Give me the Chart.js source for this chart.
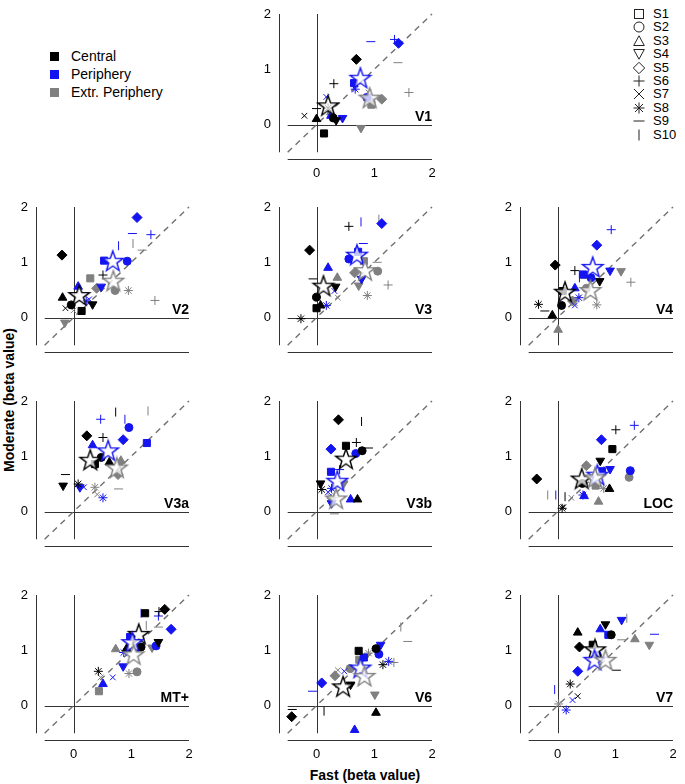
<!DOCTYPE html>
<html>
<head>
<meta charset="utf-8">
<script src="https://cdn.jsdelivr.net/npm/chart.js@4.4.1/dist/chart.umd.min.js"></script>
<style>
  html, body { margin: 0; padding: 0; background: #fff; width: 685px; height: 784px; overflow: hidden;
    font-family: "Liberation Sans", Arial, sans-serif; }
  canvas { position: absolute; }
  .lg { position: absolute; white-space: nowrap; color: #000; }
  .lg svg { position: absolute; }
  .title { position: absolute; font-weight: bold; font-size: 14px; color: #000; white-space: nowrap; }
</style>
</head>
<body>
<div id="groupLegend"></div>
<div id="subjectLegend"></div>
<div class="title" style="left:365px;top:767px;transform:translateX(-50%);">Fast (beta value)</div>
<div class="title" style="left:9px;top:400px;transform:translate(-50%,-50%) rotate(-90deg);">Moderate (beta value)</div>

<script>
// groups, subjects, ticks
const groupNames = ['Central', 'Periphery', 'Extr. Periphery'];
const subjectNames = ['S1', 'S2', 'S3', 'S4', 'S5', 'S6', 'S7', 'S8', 'S9', 'S10'];
const tickValues = [0, 1, 2];

// each array: S1..S10 as [fast, moderate], null where the point is hidden
const v1Central = [[0.13,-0.16],[0.29,0.12],[0.0,0.10],[0.34,0.08],[0.69,1.18],[0.30,0.74],[-0.21,0.16],[0.20,0.30],[0.0,0.29],null];
const v1Periph  = [[0.65,0.75],[0.87,0.49],[0.25,0.16],[0.45,0.12],[1.42,1.47],[1.35,1.54],[0.17,0.50],[0.67,0.64],[0.94,1.50],null];
const v1Extr    = [[0.95,0.36],[0.93,0.42],[0.25,0.22],[0.77,-0.06],[1.13,0.46],[1.60,0.58],[0.90,0.58],[0.88,0.50],[1.41,1.12],null];
const v1Means   = [[0.20,0.33],[0.76,0.83],[0.92,0.47]];

const v2Central = [[0.14,0.12],[-0.04,0.23],[-0.19,0.36],[0.33,0.24],[-0.20,1.13],[0.51,0.77],[-0.14,0.17],null,null,null];
const v2Periph  = [[0.53,1.03],[0.93,1.02],[0.08,0.56],[0.48,0.56],[1.10,1.81],[1.34,1.50],[0.27,0.33],[0.22,0.30],[1.02,1.52],[0.78,1.30]];
const v2Extr    = [[0.29,0.71],[0.72,0.49],null,[-0.15,-0.09],[0.40,0.53],[1.41,0.31],[0.0,0.13],[0.95,0.49],[1.19,1.22],[1.03,1.34]];
const v2Means   = [[0.10,0.39],[0.68,1.01],[0.69,0.65]];

const v3Central = [[0.0,0.17],[0.0,0.37],[0.07,0.22],[0.33,0.56],[-0.12,1.22],[0.56,1.65],null,[-0.27,-0.02],[-0.06,0.70],null];
const v3Periph  = [[0.72,1.19],[0.56,1.06],[0.20,0.90],[0.78,0.70],[1.13,1.70],null,[0.31,0.48],[0.17,0.22],[0.81,1.34],[0.77,1.73]];
const v3Extr    = [[0.82,1.02],[1.06,0.84],[0.36,0.72],[0.73,0.58],[0.66,0.81],[1.24,0.59],[0.37,0.36],[0.88,0.40],[1.05,1.00],[1.08,1.78]];
const v3Means   = [[0.12,0.56],[0.70,1.12],[0.84,0.84]];

const v4Central = [[0.09,0.48],[0.07,0.22],[-0.09,0.04],[0.73,0.66],[-0.04,0.95],[0.30,0.85],null,[-0.33,0.24],[-0.22,0.12],null];
const v4Periph  = [[0.44,0.78],[0.58,0.72],[0.30,0.53],[0.91,0.85],[0.68,1.31],[0.93,1.59],[0.30,0.22],[0.37,0.36],null,[0.38,0.72]];
const v4Extr    = [[0.46,0.77],[0.50,0.53],[0.01,-0.22],[1.10,0.84],[0.26,0.30],[1.27,0.64],[0.30,0.26],[0.68,0.23],null,null];
const v4Means   = [[0.13,0.45],[0.61,0.90],[0.57,0.48]];

const v3aCentral = [[0.37,0.86],[0.48,0.98],[0.62,0.89],[-0.18,0.47],[0.23,1.37],[0.51,1.34],null,[0.08,0.50],[-0.14,0.67],[0.73,1.80]];
const v3aPeriph  = [[1.27,1.24],[0.96,1.52],[0.33,1.20],[0.11,0.44],[0.86,1.30],[0.47,1.67],[0.18,0.44],[0.51,0.25],null,[0.89,1.67]];
const v3aExtr    = [null,null,[0.82,0.92],[0.81,0.86],[0.77,0.67],null,[0.41,0.31],[0.37,0.44],[0.78,0.41],[1.29,1.82]];
const v3aMeans   = [[0.29,0.92],[0.60,1.09],[0.75,0.78]];

const v3bCentral = [[0.51,1.19],[0.79,1.10],[0.71,0.22],[0.07,0.51],[0.38,1.66],[0.69,1.25],null,[0.09,0.40],[0.90,1.15],[0.78,1.63]];
const v3bPeriph  = [[0.25,0.72],[0.68,1.05],[0.59,0.22],[0.26,0.15],[0.25,1.13],[0.40,0.76],[0.20,0.35],[0.26,0.42],null,null];
const v3bExtr    = [null,null,null,[0.47,0.51],null,null,[0.23,0.28],[0.30,0.25],[0.31,-0.04],null];
const v3bMeans   = [[0.51,0.94],[0.36,0.54],[0.34,0.22]];

const locCentral = [[0.95,1.13],[0.43,0.51],[0.90,0.41],[0.74,0.92],[-0.36,0.59],[1.01,1.48],[0.10,0.08],[0.08,0.06],null,[0.13,0.27]];
const locPeriph  = [[0.77,0.73],[1.26,0.74],[0.46,0.28],[0.91,0.77],[0.76,1.30],[1.33,1.56],null,[0.44,0.30],null,[-0.03,0.30]];
const locExtr    = [[0.66,0.47],[1.24,0.62],[0.71,0.18],null,[0.50,0.83],null,[0.24,0.25],[0.80,0.42],null,[-0.17,0.30]];
const locMeans   = [[0.42,0.58],[0.69,0.65],[0.65,0.60]];

const mtCentral = [[1.24,1.67],[1.17,1.06],[0.92,1.03],[1.47,1.15],[1.58,1.74],[1.48,1.70],null,[0.43,0.62],null,null];
const mtPeriph  = [[0.98,1.24],[1.43,1.08],[0.51,0.39],[0.86,0.71],[1.69,1.38],[1.47,1.62],[0.68,0.51],[0.87,0.96],null,[1.17,1.67]];
const mtExtr    = [[0.44,0.26],[1.10,0.61],[0.73,1.02],[1.36,1.05],null,null,[0.47,0.51],[0.96,0.58],[1.47,1.42],[1.26,1.45]];
const mtMeans   = [[1.13,1.28],[1.02,1.13],[1.04,0.91]];

const v6Central = [[0.73,0.99],[1.03,1.03],[1.03,-0.13],[0.59,0.38],[-0.43,-0.20],null,null,[1.15,0.74],[-0.42,-0.07],[0.13,-0.10]];
const v6Periph  = [[0.82,0.87],[1.08,0.93],[0.66,-0.44],[1.11,1.10],[0.09,0.41],null,[0.48,0.62],[1.25,0.80],[-0.07,0.26],null];
const v6Extr    = [[0.74,0.83],[0.58,0.67],null,[1.01,0.20],[0.32,0.54],[1.34,0.78],[0.37,0.64],[0.90,0.95],[1.58,1.16],[1.46,1.42]];
const v6Means   = [[0.46,0.33],[0.76,0.67],[0.83,0.52]];

const v7Central = [[0.61,1.10],[0.93,1.28],[0.35,1.32],[0.83,1.47],[0.38,1.06],null,[0.35,0.17],[0.22,0.39],[1.02,0.64],null];
const v7Periph  = [[0.88,1.28],[0.69,0.91],[0.74,1.38],[1.11,1.55],[0.35,0.62],null,[0.26,0.10],[0.15,-0.08],[1.68,1.29],[-0.05,0.29]];
const v7Extr    = [null,null,[1.34,1.20],[1.59,1.10],null,null,null,[0.02,0.03],[1.11,1.19],[1.20,1.58]];
const v7Means   = [[0.65,1.00],[0.64,0.81],[0.83,0.81]];

// colores y marcadores
const groupColors = ['#000000', '#1414f0', '#808080'];
const markerStyle  = ['rect', 'circle', 'triangle', 'triangle', 'rectRot', 'cross', 'crossRot', 'star', 'line', 'line'];
const markerRot    = [0, 0, 0, 180, 0, 0, 0, 0, 0, 90];
const markerRadius = [5, 4, 5, 5, 5, 4.5, 4, 4.5, 4.5, 4.5];
const filled       = [true, true, true, true, true, false, false, false, false, false];
const FONT = '"Liberation Sans", Arial, sans-serif';

const panels = [
  { name: 'V1',  col: 1, row: 0, sets: [v1Central, v1Periph, v1Extr], means: v1Means, xLabels: true },
  { name: 'V2',  col: 0, row: 1, sets: [v2Central, v2Periph, v2Extr], means: v2Means },
  { name: 'V3',  col: 1, row: 1, sets: [v3Central, v3Periph, v3Extr], means: v3Means },
  { name: 'V4',  col: 2, row: 1, sets: [v4Central, v4Periph, v4Extr], means: v4Means },
  { name: 'V3a', col: 0, row: 2, sets: [v3aCentral, v3aPeriph, v3aExtr], means: v3aMeans },
  { name: 'V3b', col: 1, row: 2, sets: [v3bCentral, v3bPeriph, v3bExtr], means: v3bMeans },
  { name: 'LOC', col: 2, row: 2, sets: [locCentral, locPeriph, locExtr], means: locMeans },
  { name: 'MT+', col: 0, row: 3, sets: [mtCentral, mtPeriph, mtExtr], means: mtMeans, xLabels: true },
  { name: 'V6',  col: 1, row: 3, sets: [v6Central, v6Periph, v6Extr], means: v6Means, xLabels: true },
  { name: 'V7',  col: 2, row: 3, sets: [v7Central, v7Periph, v7Extr], means: v7Means, xLabels: true }
];

const colLeft = [12, 255, 496];
const rowTop = [2, 195, 389, 583];

// estrella hueca para las medias
function makeStar(color) {
  const c = document.createElement('canvas');
  c.width = 26; c.height = 26;
  const g = c.getContext('2d');
  g.beginPath();
  for (let i = 0; i < 10; i++) {
    const r = i % 2 ? 4.3 : 10.8;
    const a = -Math.PI / 2 + i * Math.PI / 5;
    const px = 13 + r * Math.cos(a), py = 13 + r * Math.sin(a);
    if (i === 0) g.moveTo(px, py); else g.lineTo(px, py);
  }
  g.closePath();
  g.fillStyle = 'rgba(255,255,255,0.75)';
  g.fill();
  g.lineWidth = 1.4;
  g.strokeStyle = color;
  g.stroke();
  return c;
}
const starImgs = groupColors.map(makeStar);

// ejes, líneas de cero, diagonal y etiqueta del panel
const panelPlugin = {
  id: 'panel',
  beforeDatasetsDraw(chart, args, opts) {
    const { ctx, scales: { x, y } } = chart;
    const px = v => x.getPixelForValue(v), py = v => y.getPixelForValue(v);
    ctx.save();
    ctx.strokeStyle = '#333';
    ctx.lineWidth = 1;
    ctx.beginPath();
    // spines
    ctx.moveTo(x.left + 0.5, py(2)); ctx.lineTo(x.left + 0.5, py(-0.5));
    ctx.moveTo(px(-0.5), y.bottom - 0.5); ctx.lineTo(px(2), y.bottom - 0.5);
    // zero lines
    ctx.moveTo(Math.round(px(0)) + 0.5, py(2)); ctx.lineTo(Math.round(px(0)) + 0.5, py(-0.5));
    ctx.moveTo(px(-0.5), Math.round(py(0)) + 0.5); ctx.lineTo(px(2), Math.round(py(0)) + 0.5);
    ctx.stroke();
    // diagonal
    ctx.strokeStyle = '#707070';
    ctx.lineWidth = 1.4;
    ctx.setLineDash([6, 5]);
    ctx.beginPath();
    ctx.moveTo(px(-0.5), py(-0.5)); ctx.lineTo(px(2), py(2));
    ctx.stroke();
    ctx.setLineDash([]);
    // label
    ctx.fillStyle = '#000';
    ctx.font = 'bold 14px ' + FONT;
    ctx.textAlign = 'right';
    ctx.textBaseline = 'alphabetic';
    ctx.fillText(opts.label, px(2), py(0) - 4);
    ctx.restore();
  }
};

function toPoints(arr) {
  return arr.map((p, i) => p && { x: p[0], y: p[1], s: i }).filter(Boolean);
}

panels.forEach(pn => {
  const cv = document.createElement('canvas');
  cv.width = 189; cv.height = 180;
  cv.style.left = colLeft[pn.col] + 'px';
  cv.style.top = rowTop[pn.row] + 'px';
  document.body.appendChild(cv);

  const datasets = [{
    data: pn.means.map((p, i) => ({ x: p[0], y: p[1], g: i })),
    pointStyle: c => starImgs[c.raw.g],
    pointRadius: 11
  }];
  // extr first in the list so central/periphery end on top
  [0, 1, 2].forEach(g => {
    datasets.push({
      data: toPoints(pn.sets[g]),
      pointStyle: c => markerStyle[c.raw.s],
      rotation: c => markerRot[c.raw.s],
      pointRadius: c => markerRadius[c.raw.s],
      pointBackgroundColor: c => filled[c.raw.s] ? groupColors[g] : 'rgba(0,0,0,0)',
      pointBorderColor: groupColors[g],
      pointBorderWidth: 1
    });
  });

  const axisCommon = {
    type: 'linear',
    max: 2,
    grid: { display: false, drawTicks: false },
    border: { display: false },
    afterBuildTicks: s => { s.ticks = tickValues.map(v => ({ value: v })); }
  };

  new Chart(cv, {
    type: 'scatter',
    data: { datasets },
    options: {
      responsive: false,
      animation: false,
      events: [],
      layout: { padding: { top: 8, right: 5, left: 0, bottom: 0 } },
      plugins: { legend: { display: false }, tooltip: { enabled: false }, panel: { label: pn.name } },
      scales: {
        x: { ...axisCommon, min: -0.65,
             ticks: { display: !!pn.xLabels, color: '#000', padding: 6, maxRotation: 0, font: { size: 13, family: FONT } },
             afterFit: s => { s.height = 22; s.paddingLeft = 0; s.paddingRight = 0; } },
        y: { ...axisCommon, min: -0.64,
             ticks: { color: '#000', padding: 8, font: { size: 13, family: FONT } },
             afterFit: s => { s.width = 24; s.paddingTop = 0; s.paddingBottom = 0; } }
      }
    },
    plugins: [panelPlugin]
  });
});

// leyenda de grupos
const gl = document.getElementById('groupLegend');
groupNames.forEach((name, i) => {
  const d = document.createElement('div');
  d.className = 'lg';
  d.style.left = '50px';
  d.style.top = (47 + i * 18) + 'px';
  d.style.fontSize = '14px';
  d.innerHTML = '<svg width="9" height="9" style="left:0;top:5px"><rect width="9" height="9" fill="' +
    groupColors[i] + '"/></svg><span style="position:absolute;left:21px;top:1px;">' + name + '</span>';
  gl.appendChild(d);
});

// leyenda de sujetos
const shapes = [
  '<rect x="1.5" y="1.5" width="9" height="9"/>',
  '<circle cx="6" cy="6" r="5"/>',
  '<polygon points="6,0.8 11.3,10.5 0.7,10.5"/>',
  '<polygon points="6,11.2 11.3,1.5 0.7,1.5"/>',
  '<polygon points="6,0.3 11.7,6 6,11.7 0.3,6"/>',
  '<path d="M6 0.5V11.5M0.5 6H11.5"/>',
  '<path d="M1 1L11 11M11 1L1 11"/>',
  '<path d="M6 0.5V11.5M0.5 6H11.5M2 2L10 10M10 2L2 10"/>',
  '<path d="M0.5 6H11.5"/>',
  '<path d="M6 0.5V11.5"/>'
];
const sl = document.getElementById('subjectLegend');
subjectNames.forEach((name, i) => {
  const cy = 14 + i * 13.4;
  const d = document.createElement('div');
  d.className = 'lg';
  d.style.left = '633px';
  d.style.top = (cy - 6) + 'px';
  d.style.fontSize = '13px';
  d.innerHTML = '<svg width="12" height="12" style="left:0;top:0" fill="none" stroke="#222" stroke-width="1">' +
    shapes[i] + '</svg><span style="position:absolute;left:20px;top:-2px;">' + name + '</span>';
  sl.appendChild(d);
});
</script>
</body>
</html>
